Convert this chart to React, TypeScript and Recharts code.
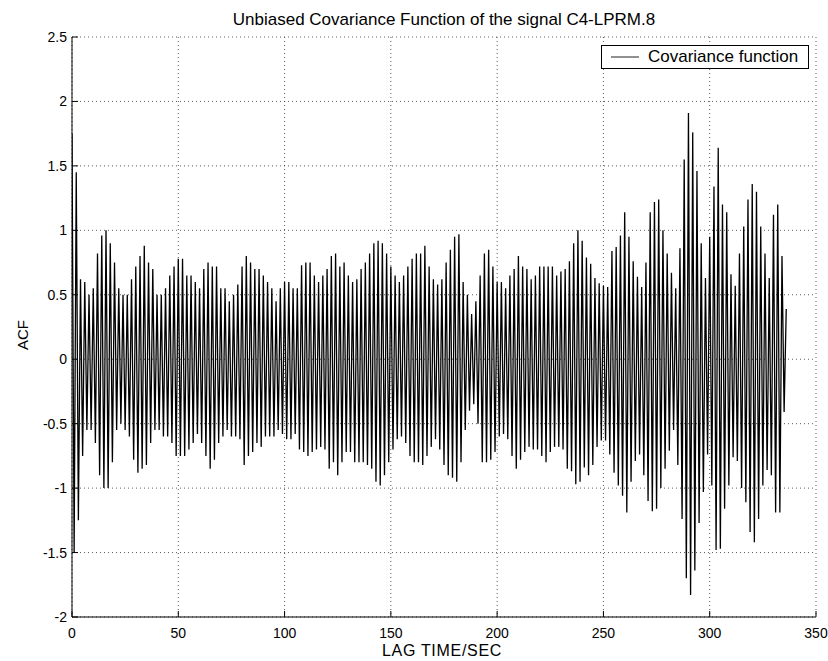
import React from "react";
import { LineChart, Line, XAxis, YAxis, CartesianGrid, Legend } from "recharts";

// Peaks of the covariance function at even lags (0, 2, 4, ... 336 s)
const peaks = [
  1.75, 1.45, 0.62, 0.6, 0.5, 0.55, 0.82, 0.96, 1.0, 0.9, 0.75, 0.55, 0.5, 0.5, 0.62, 0.72, 0.8, 0.88, 0.75, 0.7,
  0.5, 0.5, 0.55, 0.65, 0.72, 0.78, 0.78, 0.65, 0.65, 0.6, 0.55, 0.7, 0.75, 0.72, 0.72, 0.55, 0.55, 0.45, 0.5, 0.58,
  0.72, 0.8, 0.75, 0.7, 0.7, 0.65, 0.6, 0.55, 0.45, 0.55, 0.6, 0.6, 0.55, 0.55, 0.73, 0.75, 0.75, 0.65, 0.6,
  0.65, 0.7, 0.8, 0.82, 0.72, 0.75, 0.65, 0.6, 0.62, 0.7, 0.75, 0.82, 0.9, 0.92, 0.9, 0.82, 0.72, 0.65, 0.6, 0.65,
  0.72, 0.78, 0.82, 0.82, 0.88, 0.72, 0.62, 0.58, 0.62, 0.75, 0.85, 0.95, 0.97, 0.6, 0.5, 0.35, 0.45, 0.65, 0.82, 0.85,
  0.72, 0.6, 0.6, 0.55, 0.65, 0.7, 0.8, 0.72, 0.7, 0.62, 0.65, 0.72, 0.72, 0.72, 0.72, 0.65, 0.68, 0.7,
  0.76, 0.9, 1.0, 0.92, 0.79, 0.74, 0.63, 0.59, 0.57, 0.56, 0.84, 0.87, 0.96, 1.14, 0.95, 0.76, 0.64, 0.56, 0.75, 1.14, 1.22, 1.24,
  1.0, 0.82, 0.67, 0.55, 0.86, 1.55, 1.91, 1.76, 1.46, 0.9, 0.63, 0.95, 1.34, 1.64, 1.2, 1.14, 0.66, 0.57, 0.82, 1.03,
  1.24, 1.36, 1.3, 1.03, 0.82, 0.63, 1.12, 1.2, 0.8, 0.39,
];

// Troughs of the covariance function at odd lags (1, 3, 5, ... 335 s)
const troughs = [
  -1.5, -1.25, -0.75, -0.55, -0.55, -0.65, -0.9, -1.0, -1.0, -0.8, -0.55, -0.5, -0.55, -0.6, -0.78, -0.88, -0.85, -0.82, -0.65, -0.55,
  -0.55, -0.6, -0.6, -0.65, -0.75, -0.75, -0.75, -0.7, -0.65, -0.58, -0.65, -0.75, -0.85, -0.78, -0.65, -0.6, -0.55, -0.6, -0.6, -0.62,
  -0.82, -0.75, -0.72, -0.65, -0.68, -0.6, -0.6, -0.6, -0.55, -0.58, -0.62, -0.62, -0.58, -0.7, -0.72, -0.75, -0.72, -0.7, -0.68,
  -0.7, -0.85, -0.8, -0.9, -0.8, -0.72, -0.72, -0.8, -0.8, -0.8, -0.82, -0.85, -0.95, -0.98, -0.9, -0.8, -0.7, -0.62, -0.6, -0.65,
  -0.75, -0.8, -0.8, -0.82, -0.75, -0.68, -0.62, -0.7, -0.82, -0.9, -0.92, -0.95, -0.8, -0.55, -0.4, -0.35, -0.5, -0.8, -0.8, -0.78,
  -0.72, -0.6, -0.58, -0.62, -0.75, -0.85, -0.78, -0.72, -0.68, -0.7, -0.7, -0.75, -0.8, -0.72, -0.68, -0.68, -0.7, -0.85,
  -0.87, -0.97, -0.95, -0.84, -0.9, -0.82, -0.68, -0.63, -0.63, -0.74, -0.88, -0.98, -1.06, -1.19, -0.95, -0.79, -0.74, -0.9, -1.1, -1.18, -1.16, -1.0,
  -0.85, -0.71, -0.55, -0.82, -1.24, -1.7, -1.83, -1.64, -1.27, -1.03, -0.74, -0.98, -1.48, -1.47, -1.16, -0.98, -0.76, -0.79, -1.0, -1.11,
  -1.34, -1.42, -1.24, -0.98, -0.86, -0.9, -1.19, -1.19, -0.41,
];

const xTicks = [0, 50, 100, 150, 200, 250, 300, 350];
const yTicks = [-2, -1.5, -1, -0.5, 0, 0.5, 1, 1.5, 2, 2.5];

const titleText = "Unbiased Covariance Function of the signal C4-LPRM.8";
const xLabelText = "LAG TIME/SEC";
const yLabelText = "ACF";
const legendText = "Covariance function";

const data: { lag: number; acf: number }[] = [];
peaks.forEach((p, i) => {
  data.push({ lag: 2 * i, acf: p });
  if (i < troughs.length) data.push({ lag: 2 * i + 1, acf: troughs[i] });
});

const FONT = "'Liberation Sans', Arial, Helvetica, sans-serif";

const BottomTick = (props: any) => {
  const { x, y, payload } = props;
  return (
    <g>
      <line x1={x} y1={y} x2={x} y2={y - 6} stroke="#000" strokeWidth={1} />
      <text x={x} y={y + 21} textAnchor="middle" fontSize={14} fontFamily={FONT} fill="#000">
        {payload.value}
      </text>
    </g>
  );
};

const TopTick = (props: any) => {
  const { x, y } = props;
  return <line x1={x} y1={y} x2={x} y2={y + 6} stroke="#000" strokeWidth={1} />;
};

const LeftTick = (props: any) => {
  const { x, y, payload } = props;
  return (
    <g>
      <line x1={x} y1={y} x2={x + 6} y2={y} stroke="#000" strokeWidth={1} />
      <text x={x - 5} y={y + 5} textAnchor="end" fontSize={14} fontFamily={FONT} fill="#000">
        {payload.value}
      </text>
    </g>
  );
};

const RightTick = (props: any) => {
  const { x, y } = props;
  return <line x1={x} y1={y} x2={x - 6} y2={y} stroke="#000" strokeWidth={1} />;
};

const LegendBox = () => (
  <div
    style={{
      width: 206,
      height: 22,
      border: "1px solid #000",
      background: "#fff",
      display: "flex",
      alignItems: "center",
      fontFamily: FONT,
      fontSize: 17,
      color: "#000",
      whiteSpace: "nowrap",
    }}
  >
    <svg width={46} height={22} style={{ display: "block", flex: "none" }}>
      <line x1={9} y1={11} x2={37} y2={11} stroke="#222" strokeWidth={1} />
    </svg>
    <span>{legendText}</span>
  </div>
);

export default function App() {
  return (
    <div style={{ position: "absolute", left: 0, top: 0, background: "#fff" }}>
      <LineChart
        width={828}
        height={661}
        data={data}
        margin={{ top: 37, right: 12, bottom: 0, left: 0 }}
        style={{ background: "#fff" }}
      >
        <CartesianGrid stroke="#333" strokeDasharray="1 3" strokeWidth={0.8} />
        <XAxis
          dataKey="lag"
          type="number"
          domain={[0, 350]}
          ticks={xTicks}
          allowDataOverflow
          height={44}
          tickSize={0}
          tickMargin={0}
          tickLine={false}
          axisLine={{ stroke: "#000", strokeWidth: 1 }}
          tick={<BottomTick />}
          label={{
            content: (p: any) => {
              const vb = p.viewBox;
              const cx = vb.x + vb.width / 2;
              return (
                <g>
                  <text x={cx - 2} y={vb.y + 39} textAnchor="middle" fontSize={16} letterSpacing={0.7} fontFamily={FONT} fill="#000">
                    {xLabelText}
                  </text>
                  <text x={cx} y={25} textAnchor="middle" fontSize={17} fontFamily={FONT} fill="#000">
                    {titleText}
                  </text>
                </g>
              );
            },
          }}
        />
        <XAxis
          xAxisId="top"
          orientation="top"
          type="number"
          domain={[0, 350]}
          ticks={xTicks}
          allowDataOverflow
          height={0}
          tickSize={0}
          tickMargin={0}
          tickLine={false}
          axisLine={{ stroke: "#000", strokeWidth: 1 }}
          tick={<TopTick />}
        />
        <YAxis
          type="number"
          domain={[-2, 2.5]}
          ticks={yTicks}
          allowDataOverflow
          width={72}
          tickSize={0}
          tickMargin={0}
          tickLine={false}
          axisLine={{ stroke: "#000", strokeWidth: 1 }}
          tick={<LeftTick />}
          label={{
            content: (p: any) => {
              const vb = p.viewBox;
              const cx = vb.x + 22;
              const cy = vb.y + vb.height / 2 + 8;
              return (
                <text
                  x={cx}
                  y={cy}
                  textAnchor="middle"
                  dominantBaseline="central"
                  transform={`rotate(-90 ${cx} ${cy})`}
                  fontSize={15}
                  fontFamily={FONT}
                  fill="#000"
                >
                  {yLabelText}
                </text>
              );
            },
          }}
        />
        <YAxis
          yAxisId="right"
          orientation="right"
          type="number"
          domain={[-2, 2.5]}
          ticks={yTicks}
          allowDataOverflow
          width={0}
          tickSize={0}
          tickMargin={0}
          tickLine={false}
          axisLine={{ stroke: "#000", strokeWidth: 1 }}
          tick={<RightTick />}
        />
        <Legend
          layout="vertical"
          align="center"
          verticalAlign="middle"
          content={<LegendBox />}
          wrapperStyle={{ position: "absolute", left: 601, top: 45, width: 208, height: 24 }}
        />
        <Line
          type="linear"
          dataKey="acf"
          stroke="#000"
          strokeWidth={1.3}
          dot={false}
          activeDot={false}
          isAnimationActive={false}
          name={legendText}
        />
      </LineChart>
    </div>
  );
}
